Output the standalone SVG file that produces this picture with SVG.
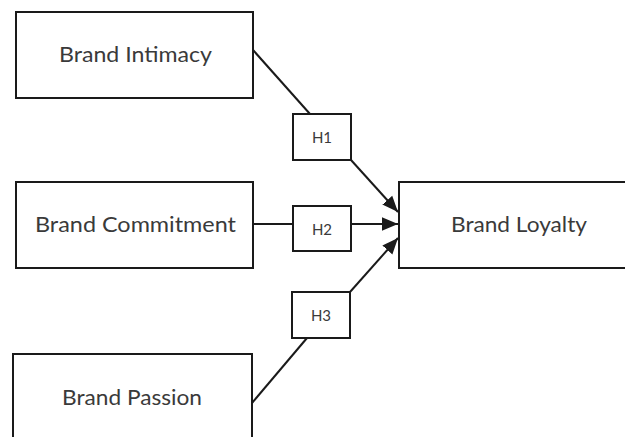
<svg xmlns="http://www.w3.org/2000/svg" width="625" height="437" viewBox="0 0 625 437">
<defs>
<style>
.box{fill:#fff;stroke:#1a1a1a;stroke-width:2}
.lbl{font-family:Lato,"Open Sans","Liberation Sans",sans-serif;font-size:22px;fill:#3a3a3a;text-anchor:middle}
.h{font-family:Lato,"Open Sans","Liberation Sans",sans-serif;font-size:15px;fill:#3a3a3a;text-anchor:middle}
.ln{stroke:#1a1a1a;stroke-width:2;fill:none}
</style>
<marker id="a" viewBox="0 0 12 10" refX="12" refY="5" markerWidth="16" markerHeight="14" orient="auto" markerUnits="userSpaceOnUse">
<path d="M0,0 L12,5 L0,10 Z" fill="#1a1a1a"/>
</marker>
</defs>
<rect width="625" height="437" fill="#fff"/>
<g id="connectors">
<line class="ln" x1="253" y1="50" x2="310" y2="114"/>
<line class="ln" x1="351" y1="160" x2="398" y2="212" marker-end="url(#a)"/>
<line class="ln" x1="253" y1="224" x2="293" y2="224"/>
<line class="ln" x1="351" y1="224" x2="398" y2="224" marker-end="url(#a)"/>
<line class="ln" x1="252" y1="403" x2="307" y2="338"/>
<line class="ln" x1="350" y1="292" x2="398" y2="238" marker-end="url(#a)"/>
</g>
<g id="brand-intimacy">
<rect class="box" x="16" y="12" width="237" height="86"/>
<text class="lbl" x="135.5" y="62" textLength="153" lengthAdjust="spacingAndGlyphs">Brand Intimacy</text>
</g>
<g id="brand-commitment">
<rect class="box" x="16" y="182" width="237" height="86"/>
<text class="lbl" x="135.5" y="232" textLength="201" lengthAdjust="spacingAndGlyphs">Brand Commitment</text>
</g>
<g id="brand-passion">
<rect class="box" x="13" y="354" width="239" height="100"/>
<text class="lbl" x="132" y="405" textLength="140" lengthAdjust="spacingAndGlyphs">Brand Passion</text>
</g>
<g id="brand-loyalty">
<rect class="box" x="399" y="182" width="240" height="86"/>
<text class="lbl" x="519" y="232" textLength="136" lengthAdjust="spacingAndGlyphs">Brand Loyalty</text>
</g>
<g id="h1">
<rect class="box" x="293" y="114" width="58" height="46"/>
<text class="h" x="322" y="143">H1</text>
</g>
<g id="h2">
<rect class="box" x="293" y="206" width="58" height="45"/>
<text class="h" x="322" y="235">H2</text>
</g>
<g id="h3">
<rect class="box" x="292" y="292" width="58" height="46"/>
<text class="h" x="321" y="321">H3</text>
</g>
</svg>
